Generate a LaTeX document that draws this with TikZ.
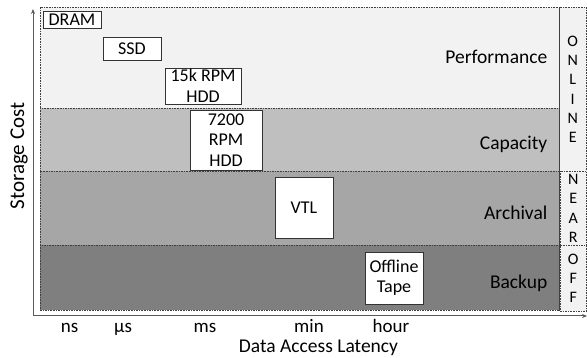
\documentclass[tikz,border=0pt]{standalone}
\usepackage{fontspec}
\setmainfont{Carlito}
\usetikzlibrary{arrows.meta}
\definecolor{bandA}{HTML}{F2F2F2}
\definecolor{bandB}{HTML}{BFBFBF}
\definecolor{bandC}{HTML}{A6A6A6}
\definecolor{bandD}{HTML}{7F7F7F}
\definecolor{axisgray}{HTML}{595959}
\tikzset{
  band/.style={draw=black!75, line width=0.7pt, dash pattern=on 1.6pt off 1pt, anchor=north west, inner sep=0pt, outer sep=0pt},
  sidecell/.style={band, fill=bandA, font=\fontsize{16}{19.3}\selectfont, align=center},
  devbox/.style={draw=black!80, fill=white, line width=0.8pt, inner sep=0pt, align=center, font=\fontsize{18}{20.5}\selectfont},
  tierlbl/.style={anchor=base east, inner sep=0pt, font=\fontsize{19.5}{22}\selectfont},
  ticklbl/.style={anchor=base, inner sep=0pt, font=\fontsize{19}{22}\selectfont},
  axisline/.style={draw=axisgray, line width=1pt, -{Stealth[length=5pt,width=4pt]}}
}
\begin{document}
\begin{tikzpicture}[x=1pt,y=-1pt]
\useasboundingbox (0,0) rectangle (587,358);
% bands
\node[band, fill=bandA, minimum width=519pt, minimum height=101pt] (perf) at (40,7.5) {};
\node[band, fill=bandB, minimum width=519pt, minimum height=62.5pt] (cap) at (40,108.5) {};
\node[band, fill=bandC, minimum width=519pt, minimum height=74.5pt] (arch) at (40,171) {};
\node[band, fill=bandD, minimum width=519pt, minimum height=65pt] (back) at (40,245.5) {};
% side cells
\node[sidecell, minimum width=27.5pt, minimum height=163.5pt] (online) at (559,7.5) {O\\N\\L\\I\\N\\E};
\node[sidecell, minimum width=26.5pt, minimum height=74.5pt] (near) at (560,171) {N\\E\\A\\R};
\node[sidecell, minimum width=26.5pt, minimum height=66pt] (off) at (560,245.5) {O\\F\\F};
\draw[black!75, line width=0.8pt] (perf.north east) -- (back.south east);
% tier labels
\node[tierlbl] (lperf) at (547.5,63.3) {Performance};
\node[tierlbl] (lcap) at (547.5,149.7) {Capacity};
\node[tierlbl] (larch) at (547.5,220) {Archival};
\node[tierlbl] (lback) at (547.5,288.3) {Backup};
% device boxes
\node[devbox, minimum width=58pt, minimum height=17pt] (dram) at (72,19.5) {DRAM};
\node[devbox, minimum width=58pt, minimum height=23pt] (ssd) at (132,48.5) {SSD};
\node[devbox, minimum width=76pt, minimum height=36pt] (hdda) at (203,86) {15k RPM\\HDD};
\node[devbox, minimum width=72pt, minimum height=60pt] (hddb) at (226,140) {7200\\RPM\\HDD};
\node[devbox, minimum width=58pt, minimum height=61pt] (vtl) at (304,207.5) {VTL};
\node[devbox, minimum width=58pt, minimum height=52pt] (tape) at (394,278) {Offline\\Tape};
% axes
\coordinate (orig) at (33,316);
\coordinate (ytop) at (33,9);
\coordinate (xend) at (587,316);
\draw[axisline] (orig) -- (ytop);
\draw[axisline] (orig) -- (xend);
% tick labels
\node[ticklbl] (tns) at (69.5,333) {ns};
\node[ticklbl] (tus) at (123,333) {µs};
\node[ticklbl] (tms) at (205,333) {ms};
\node[ticklbl] (tmin) at (309,333) {min};
\node[ticklbl] (thour) at (391,333) {hour};
\node[ticklbl, font=\fontsize{19.5}{22}\selectfont] (xlab) at (318.5,352.5) {Data Access Latency};
\node[anchor=base, inner sep=0pt, rotate=90, font=\fontsize{21}{24}\selectfont] (ylab) at (24,156) {Storage Cost};
\end{tikzpicture}
\end{document}
